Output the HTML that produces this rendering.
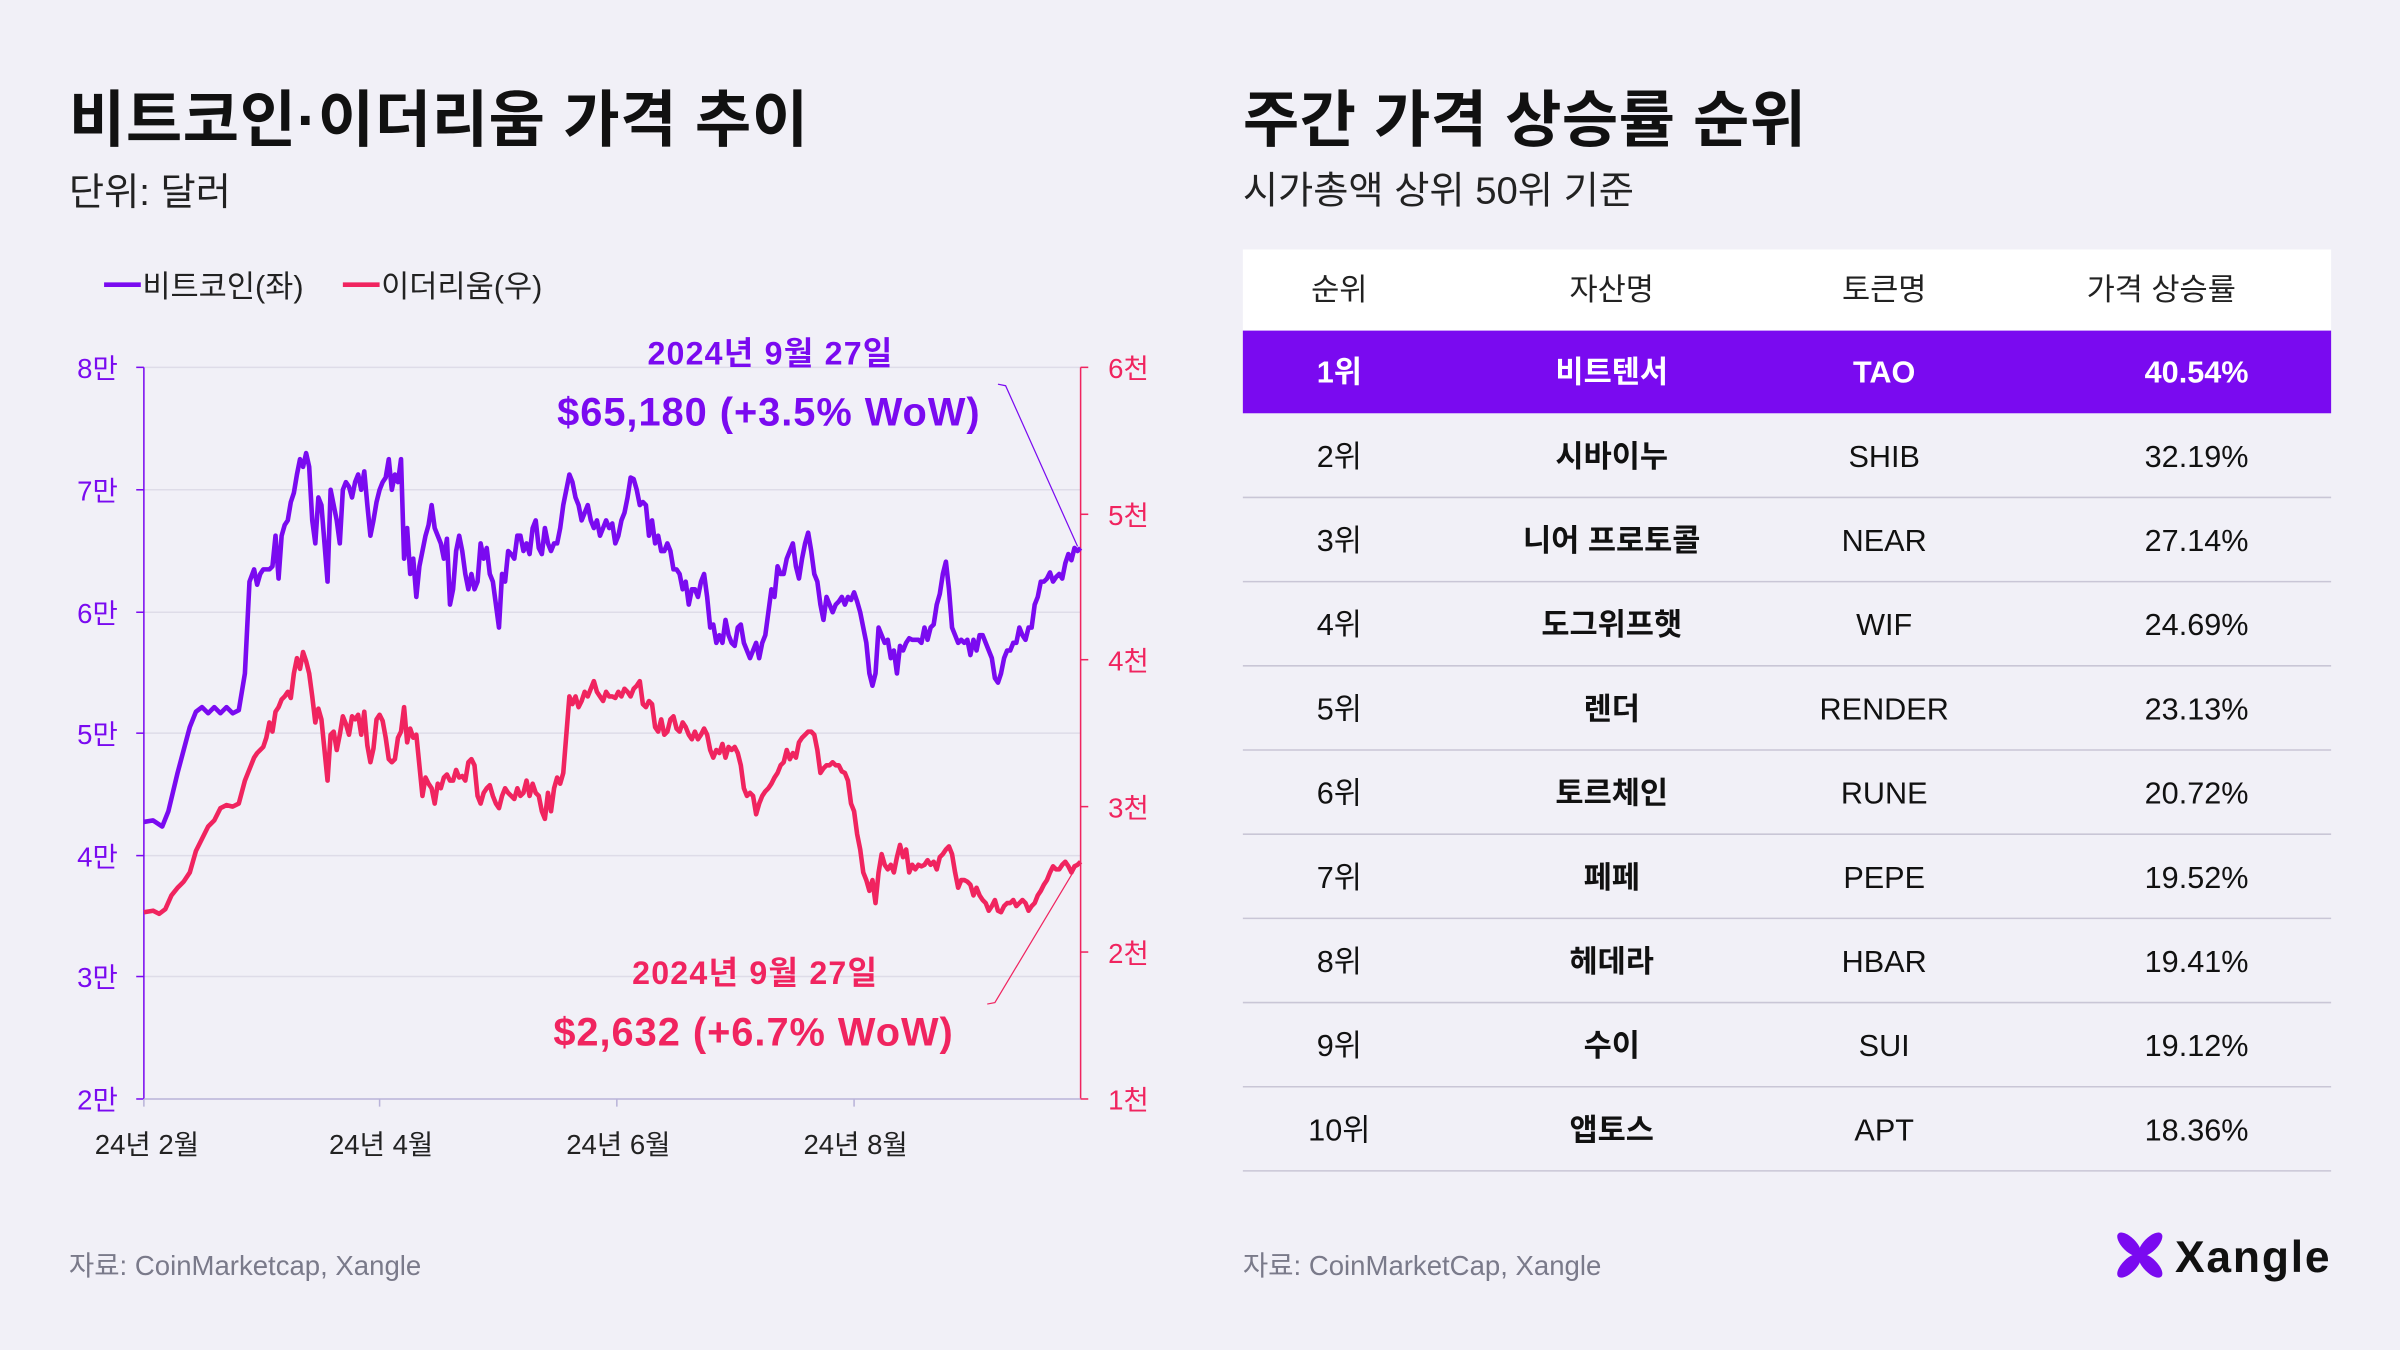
<!DOCTYPE html>
<html><head><meta charset="utf-8"><style>
html,body{margin:0;padding:0;background:#f1f0f7;}
svg{display:block;}
text{font-family:"Liberation Sans","Noto Sans CJK KR",sans-serif;}
</style></head><body>
<svg width="2400" height="1350" viewBox="0 0 1568 882" xmlns="http://www.w3.org/2000/svg">
<rect width="1568" height="882" fill="#f1f0f7"/>
<text x="45" y="92" font-size="40" font-weight="700" fill="#111" textLength="483">비트코인·이더리움 가격 추이</text>
<text x="45" y="134" font-size="25" fill="#222">단위: 달러</text>
<line x1="68" y1="186" x2="92" y2="186" stroke="#7a0af0" stroke-width="3"/>
<text x="93" y="194" font-size="20" fill="#222">비트코인(좌)</text>
<line x1="224" y1="186" x2="248" y2="186" stroke="#f0245f" stroke-width="3"/>
<text x="249" y="194" font-size="20" fill="#222">이더리움(우)</text>
<g stroke="#dedce8" stroke-width="1">
<line x1="94" y1="240" x2="706" y2="240"/><line x1="94" y1="320" x2="706" y2="320"/>
<line x1="94" y1="400" x2="706" y2="400"/><line x1="94" y1="479" x2="706" y2="479"/>
<line x1="94" y1="559" x2="706" y2="559"/><line x1="94" y1="638" x2="706" y2="638"/>
</g>
<line x1="94" y1="240" x2="94" y2="718" stroke="#7a0af0" stroke-width="1"/>
<line x1="706" y1="240" x2="706" y2="718" stroke="#f0245f" stroke-width="1"/>
<line x1="94" y1="718" x2="706" y2="718" stroke="#b9b3d9" stroke-width="1"/>
<g stroke="#7a0af0"><line x1="89" y1="240" x2="94" y2="240"/><line x1="89" y1="320" x2="94" y2="320"/><line x1="89" y1="400" x2="94" y2="400"/><line x1="89" y1="479" x2="94" y2="479"/><line x1="89" y1="559" x2="94" y2="559"/><line x1="89" y1="638" x2="94" y2="638"/><line x1="89" y1="718" x2="94" y2="718"/></g>
<g stroke="#f0245f"><line x1="706" y1="240" x2="711" y2="240"/><line x1="706" y1="336" x2="711" y2="336"/><line x1="706" y1="431" x2="711" y2="431"/><line x1="706" y1="527" x2="711" y2="527"/><line x1="706" y1="622" x2="711" y2="622"/><line x1="706" y1="718" x2="711" y2="718"/></g>
<g stroke="#b9b3d9"><line x1="94" y1="718" x2="94" y2="723"/><line x1="248" y1="718" x2="248" y2="723"/><line x1="403" y1="718" x2="403" y2="723"/><line x1="558" y1="718" x2="558" y2="723"/></g>
<g font-size="18" fill="#7a0af0" text-anchor="end">
<text x="77" y="247">8만</text><text x="77" y="327">7만</text><text x="77" y="407">6만</text><text x="77" y="486">5만</text><text x="77" y="566">4만</text><text x="77" y="645">3만</text><text x="77" y="725">2만</text></g>
<g font-size="18" fill="#f0245f"><text x="724" y="247">6천</text><text x="724" y="343">5천</text><text x="724" y="438">4천</text><text x="724" y="534">3천</text><text x="724" y="629">2천</text><text x="724" y="725">1천</text></g>
<g font-size="18" fill="#222" text-anchor="middle"><text x="96" y="754">24년 2월</text><text x="249" y="754">24년 4월</text><text x="404" y="754">24년 6월</text><text x="559" y="754">24년 8월</text></g>
<polyline fill="none" stroke="#7a0af0" stroke-width="3" stroke-linejoin="round" points="94,537 100,536 106,540 110,530 116,505 120,490 124,475 128,465 132,462 136,466 140,462 144,466 148,462 152,466 156,464 160,440 163,380 166,372 168,382 170,375 172,372 176,372 178,370 180,350 182,378 184,350 186,343 188,340 190,328 192,322 194,310 196,300 198,305 200,296 202,305 204,340 206,355 208,325 210,330 212,355 214,380 216,320 218,330 220,340 222,355 224,320 226,315 228,318 230,325 232,315 234,310 236,320 238,308 240,330 242,350 244,340 246,328 248,320 250,315 252,312 254,300 256,320 258,310 260,315 262,300 264,365 266,345 268,375 270,365 272,390 274,370 276,360 278,350 280,343 282,330 284,345 286,350 288,355 290,365 292,352 294,395 296,385 298,360 300,350 302,360 304,375 306,385 308,375 310,385 312,380 314,355 316,365 318,358 320,375 322,380 324,395 326,410 328,375 330,380 332,360 334,362 336,365 338,350 340,350 342,360 344,355 346,362 348,345 350,340 352,358 354,362 356,345 358,355 360,360 362,355 364,355 366,345 368,330 370,320 372,310 374,315 376,325 378,330 380,340 382,335 384,330 386,340 388,345 390,340 392,350 394,345 396,340 398,345 400,342 402,355 404,350 406,340 408,335 410,325 412,312 414,313 416,320 418,330 420,328 422,330 424,350 426,340 428,355 430,350 432,360 434,360 436,355 438,360 440,372 442,372 444,375 446,385 448,380 450,395 452,385 454,385 456,390 458,380 460,375 462,390 464,410 466,408 468,420 470,415 472,420 474,405 476,415 478,420 480,422 482,410 484,408 486,420 488,425 490,430 492,425 494,420 496,430 498,420 500,415 502,400 504,385 506,390 508,370 510,375 512,375 514,365 516,360 518,355 520,370 522,378 524,365 526,355 528,348 530,360 532,375 534,380 536,395 538,405 540,390 542,395 544,400 546,395 548,393 550,390 552,395 554,390 556,392 558,387 560,393 562,400 564,410 566,420 568,440 570,448 572,440 574,410 576,415 578,420 580,418 582,430 584,425 586,440 588,422 590,425 592,420 594,417 596,418 598,418 600,418 602,420 604,410 606,418 608,410 610,408 612,395 614,388 616,375 618,367 620,385 622,410 624,415 626,420 628,418 630,420 632,418 634,428 636,418 638,425 640,415 642,415 644,420 646,425 648,430 650,443 652,446 654,440 656,430 658,425 660,425 662,420 664,420 666,410 668,415 670,418 672,410 674,410 676,395 678,390 680,380 682,380 684,378 686,374 688,380 690,377 692,375 694,378 696,368 698,362 700,366 702,358 704,360 706,358"/>
<polyline fill="none" stroke="#f0245f" stroke-width="3" stroke-linejoin="round" points="94,596 100,595 104,597 108,594 112,585 116,580 118,578 120,576 124,570 128,556 132,548 136,540 140,536 144,528 148,526 152,527 156,525 160,510 162,505 164,500 166,495 168,492 170,490 172,488 174,482 176,472 178,478 180,465 182,462 184,457 186,455 188,452 190,456 192,440 194,430 196,437 198,426 200,432 202,440 204,455 206,472 208,463 210,470 212,490 214,510 216,480 218,478 220,490 222,480 224,468 226,473 228,480 230,468 232,470 234,467 236,480 238,465 240,487 242,498 244,489 246,470 248,467 250,471 252,482 254,496 256,498 258,496 260,482 262,478 264,462 266,485 268,476 270,482 272,480 274,500 276,520 278,508 280,512 282,515 284,525 286,512 288,515 290,508 292,506 294,510 296,510 298,503 300,508 302,507 304,510 306,498 308,496 310,500 312,520 314,525 316,518 318,515 320,513 322,520 324,525 326,528 328,520 330,515 332,518 334,520 336,522 338,515 340,520 342,518 344,510 346,520 348,512 350,518 352,520 354,530 356,535 358,518 360,530 362,515 364,508 366,512 368,505 370,480 372,455 374,460 376,455 378,462 380,458 382,452 384,455 386,450 388,445 390,452 392,455 394,458 396,452 398,455 400,455 402,456 404,452 406,455 408,450 410,452 412,455 414,450 416,448 418,445 420,460 422,462 424,458 426,460 428,475 430,478 432,470 434,480 436,478 438,470 440,468 442,476 444,478 446,472 448,475 450,480 452,483 454,478 456,483 458,480 460,476 462,480 464,490 466,495 468,490 470,492 472,486 474,495 476,488 478,490 480,488 482,492 484,500 486,515 488,520 490,518 492,520 494,532 496,525 498,520 500,517 502,515 504,512 506,508 508,505 510,500 512,498 514,490 516,496 518,492 520,495 522,485 524,482 526,480 528,478 530,478 532,480 534,490 536,505 538,502 540,500 542,500 544,498 546,500 548,500 550,504 552,505 554,510 556,525 558,530 560,545 562,555 564,570 566,575 568,582 570,575 572,590 574,570 576,558 578,565 580,568 582,565 584,570 586,560 588,552 590,560 592,555 594,570 596,565 598,568 600,565 602,566 604,565 606,562 608,565 610,563 612,568 614,560 616,558 618,555 620,553 622,558 624,570 626,580 628,575 630,575 632,576 634,578 636,585 638,580 640,585 642,588 644,590 646,595 648,592 650,588 652,595 654,596 656,592 658,590 660,590 662,588 664,592 666,590 668,588 670,590 672,595 674,592 676,590 678,585 680,582 682,578 684,575 686,570 688,566 690,568 692,568 694,565 696,563 698,566 700,570 702,566 704,565 706,563"/>
<polyline fill="none" stroke="#7a0af0" stroke-width="0.8" points="652,251 657,252 704,357"/>
<polyline fill="none" stroke="#f0245f" stroke-width="0.8" points="645,656 650,655 704,565"/>
<text x="503" y="238" font-size="21" font-weight="700" fill="#7a0af0" text-anchor="middle" textLength="160">2024년 9월 27일</text>
<text x="502" y="278" font-size="26" font-weight="700" fill="#7a0af0" text-anchor="middle" textLength="276">$65,180 (+3.5% WoW)</text>
<text x="493" y="643" font-size="21" font-weight="700" fill="#f0245f" text-anchor="middle" textLength="160">2024년 9월 27일</text>
<text x="492" y="683" font-size="26" font-weight="700" fill="#f0245f" text-anchor="middle" textLength="261">$2,632 (+6.7% WoW)</text>
<text x="45" y="833" font-size="18" fill="#7a7a8a">자료: CoinMarketcap, Xangle</text>

<text x="812" y="92" font-size="40" font-weight="700" fill="#111" textLength="368">주간 가격 상승률 순위</text>
<text x="812" y="133" font-size="25" fill="#222">시가총액 상위 50위 기준</text>
<rect x="812" y="163" width="711" height="53" fill="#ffffff"/>
<rect x="812" y="216" width="711" height="54" fill="#7a0af0"/>
<g font-size="20" fill="#222" text-anchor="middle">
<text x="875" y="196">순위</text><text x="1053" y="196">자산명</text><text x="1231" y="196">토큰명</text><text x="1412" y="196">가격 상승률</text></g>
<g font-size="20" fill="#fff" font-weight="700"><text x="875" y="250" text-anchor="middle">1위</text><text x="1053" y="250" text-anchor="middle">비트텐서</text><text x="1231" y="250" text-anchor="middle">TAO</text><text x="1469" y="250" text-anchor="end">40.54%</text></g>
<g stroke="#c9c6d6" stroke-width="1">
<line x1="812" y1="325" x2="1523" y2="325"/><line x1="812" y1="380" x2="1523" y2="380"/><line x1="812" y1="435" x2="1523" y2="435"/><line x1="812" y1="490" x2="1523" y2="490"/><line x1="812" y1="545" x2="1523" y2="545"/><line x1="812" y1="600" x2="1523" y2="600"/><line x1="812" y1="655" x2="1523" y2="655"/><line x1="812" y1="710" x2="1523" y2="710"/><line x1="812" y1="765" x2="1523" y2="765"/></g>
<g font-size="20" fill="#111">
<g text-anchor="middle">
<text x="875" y="305">2위</text><text x="875" y="360">3위</text><text x="875" y="415">4위</text><text x="875" y="470">5위</text><text x="875" y="525">6위</text><text x="875" y="580">7위</text><text x="875" y="635">8위</text><text x="875" y="690">9위</text><text x="875" y="745">10위</text>
<g font-weight="700"><text x="1053" y="305">시바이누</text><text x="1053" y="360">니어 프로토콜</text><text x="1053" y="415">도그위프햇</text><text x="1053" y="470">렌더</text><text x="1053" y="525">토르체인</text><text x="1053" y="580">페페</text><text x="1053" y="635">헤데라</text><text x="1053" y="690">수이</text><text x="1053" y="745">앱토스</text></g>
<text x="1231" y="305">SHIB</text><text x="1231" y="360">NEAR</text><text x="1231" y="415">WIF</text><text x="1231" y="470">RENDER</text><text x="1231" y="525">RUNE</text><text x="1231" y="580">PEPE</text><text x="1231" y="635">HBAR</text><text x="1231" y="690">SUI</text><text x="1231" y="745">APT</text></g>
<g text-anchor="end"><text x="1469" y="305">32.19%</text><text x="1469" y="360">27.14%</text><text x="1469" y="415">24.69%</text><text x="1469" y="470">23.13%</text><text x="1469" y="525">20.72%</text><text x="1469" y="580">19.52%</text><text x="1469" y="635">19.41%</text><text x="1469" y="690">19.12%</text><text x="1469" y="745">18.36%</text></g>
</g>
<text x="812" y="833" font-size="18" fill="#7a7a8a">자료: CoinMarketCap, Xangle</text>
<g transform="translate(1398,820)">
<g fill="#7a0af0">
<ellipse cx="-7" cy="-7" rx="4.5" ry="10" transform="rotate(-45 -7 -7)"/>
<ellipse cx="7" cy="-7" rx="4.5" ry="10" transform="rotate(45 7 -7)"/>
<ellipse cx="-7" cy="7" rx="4.5" ry="10" transform="rotate(45 -7 7)"/>
<ellipse cx="7" cy="7" rx="4.5" ry="10" transform="rotate(-45 7 7)"/>
</g></g>
<text x="1421" y="831" font-size="29" font-weight="700" fill="#111" textLength="101">Xangle</text>
</svg>
</body></html>
